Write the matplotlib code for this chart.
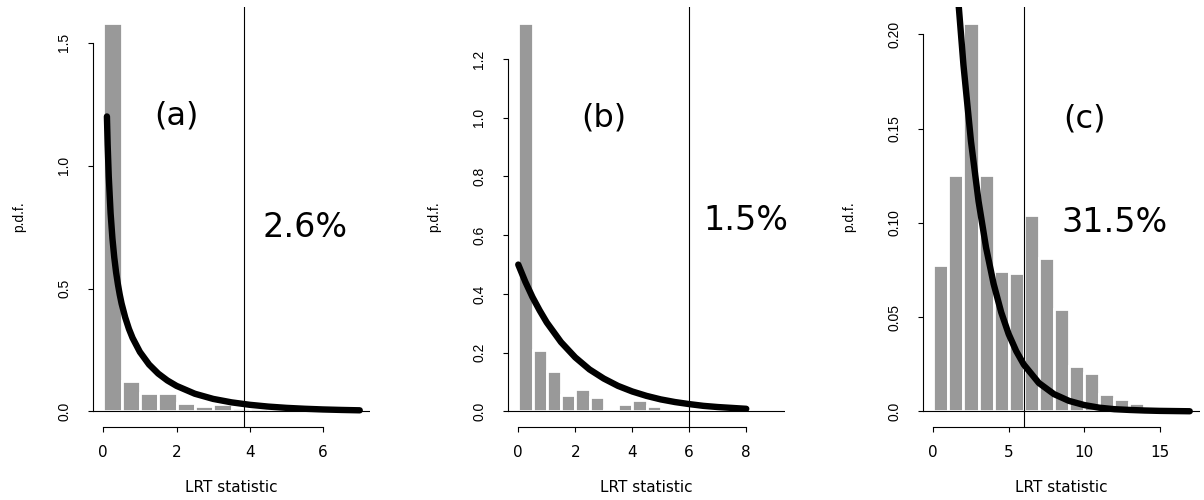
import matplotlib
matplotlib.use('Agg')
import matplotlib.pyplot as plt
import numpy as np

# histogram bins (left edges + last right edge) and densities
a_edges = [0, 0.5, 1.0, 1.5, 2.0, 2.5, 3.0, 3.5, 4.0, 4.5, 5.0, 5.5]
a_dens = [1.582, 0.124, 0.073, 0.073, 0.035, 0.022, 0.031, 0.016, 0.012, 0.012, 0.008]

b_edges = [0, 0.5, 1.0, 1.5, 2.0, 2.5, 3.0, 3.5, 4.0, 4.5, 5.0, 5.5, 6.0, 6.5]
b_dens = [1.324, 0.208, 0.139, 0.057, 0.0775, 0.048, 0.006, 0.026, 0.038, 0.017, 0.0, 0.006, 0.006]

c_edges = [0, 1, 2, 3, 4, 5, 6, 7, 8, 9, 10, 11, 12, 13, 14, 15]
c_dens = [0.0775, 0.1254, 0.2063, 0.1254, 0.0745, 0.0736, 0.1043, 0.0814, 0.0545,
          0.0243, 0.0202, 0.0093, 0.0066, 0.0045, 0.001]

# reference density curves
a_curve_x = [0.1, 0.12, 0.15, 0.2, 0.25, 0.3, 0.35, 0.4, 0.45, 0.5, 0.6, 0.7, 0.8, 1.0,
             1.25, 1.5, 1.75, 2.0, 2.5, 3.0, 3.5, 4.0, 4.5, 5.0, 5.5, 6.0, 6.5, 7.0]
a_curve_y = [1.200, 1.085, 0.956, 0.807, 0.704, 0.627, 0.566, 0.517, 0.475, 0.439, 0.382,
             0.336, 0.299, 0.242, 0.191, 0.154, 0.126, 0.104, 0.072, 0.051, 0.037, 0.027,
             0.0198, 0.0146, 0.0109, 0.0081, 0.0061, 0.0046]

b_curve_x = [0, 0.25, 0.5, 0.75, 1.0, 1.5, 2.0, 2.5, 3.0, 3.5, 4.0, 4.5, 5.0, 5.5, 6.0,
             6.5, 7.0, 7.5, 8.0]
b_curve_y = [0.500, 0.441, 0.389, 0.344, 0.303, 0.236, 0.184, 0.143, 0.112, 0.087, 0.068,
             0.053, 0.041, 0.032, 0.025, 0.019, 0.015, 0.012, 0.009]

c_curve_x = [1.69, 2.0, 2.5, 3.0, 3.5, 4.0, 4.5, 5.0, 5.5, 6.0, 7.0, 8.0, 9.0, 10.0,
             11.0, 12.0, 13.0, 14.0, 15.0, 16.0, 17.0]
c_curve_y = [0.2148, 0.1839, 0.1433, 0.1116, 0.0869, 0.0677, 0.0527, 0.0410, 0.0320,
             0.0249, 0.0151, 0.0092, 0.0056, 0.0034, 0.0020, 0.0012, 0.0008, 0.0005,
             0.0003, 0.0002, 0.0001]

cutoffs = [3.84, 5.99, 5.99]
tags = ['(a)', '(b)', '(c)']
tag_pos = [(2, 1.2), (3, 1.0), (10, 0.155)]
pcts = ['2.6%', '1.5%', '31.5%']
pct_pos = [(5.5, 0.75), (8, 0.65), (12, 0.10)]
x_ranges = [(0, 7), (0, 9), (0, 17)]
x_ticks = [[0, 2, 4, 6], [0, 2, 4, 6, 8], [0, 5, 10, 15]]
y_ticks = [[0, 0.5, 1.0, 1.5], [0, 0.2, 0.4, 0.6, 0.8, 1.0, 1.2], [0, 0.05, 0.10, 0.15, 0.20]]
y_labels = [['0.0', '0.5', '1.0', '1.5'],
            ['0.0', '0.2', '0.4', '0.6', '0.8', '1.0', '1.2'],
            ['0.0', '0.05', '0.10', '0.15', '0.20']]

edges = [a_edges, b_edges, c_edges]
dens = [a_dens, b_dens, c_dens]
curves = [(a_curve_x, a_curve_y), (b_curve_x, b_curve_y), (c_curve_x, c_curve_y)]


def r_lim(lo, hi):
    d = 0.04 * (hi - lo)
    return lo - d, hi + d


W, H = 1204, 500
fig = plt.figure(figsize=(W / 100, H / 100), dpi=100)
plt.rcParams['font.family'] = 'DejaVu Sans'

for i in range(3):
    left = 93 + 415 * i
    ax = fig.add_axes([left / W, 73 / H, 277 / W, 420 / H])
    e = np.array(edges[i])
    ax.bar(e[:-1], dens[i], width=np.diff(e), align='edge', color='#999999',
           edgecolor='white', linewidth=2, zorder=1)
    ax.axhline(0, color='black', lw=0.8, zorder=2)
    ax.axvline(cutoffs[i], color='black', lw=0.8, zorder=2)
    ax.plot(curves[i][0], curves[i][1], color='black', lw=4.6,
            solid_capstyle='round', solid_joinstyle='round', zorder=3)

    ax.set_xlim(*r_lim(*x_ranges[i]))
    ax.set_ylim(*r_lim(0, max(dens[i])))

    ax.text(tag_pos[i][0], tag_pos[i][1], tags[i], fontsize=23, ha='center', va='center')
    ax.text(pct_pos[i][0], pct_pos[i][1], pcts[i], fontsize=24, ha='center', va='center')

    for s in ['top', 'right']:
        ax.spines[s].set_visible(False)
    ax.spines['left'].set_bounds(y_ticks[i][0], y_ticks[i][-1])
    ax.spines['bottom'].set_bounds(x_ticks[i][0], x_ticks[i][-1])
    for s in ['left', 'bottom']:
        ax.spines[s].set_linewidth(0.8)

    ax.set_xticks(x_ticks[i], [str(t) for t in x_ticks[i]], fontsize=11)
    ax.set_yticks(y_ticks[i], y_labels[i], fontsize=10, family='Liberation Sans',
                  rotation=90, va='center')
    ax.tick_params(axis='x', length=3.6, width=0.8, pad=9.5)
    ax.tick_params(axis='y', length=3.6, width=0.8, pad=12)

    ax.text(0.5, -60 / 420, 'LRT statistic', transform=ax.transAxes, fontsize=11,
            ha='center', va='center')
    ax.text(-74 / 277, 0.5, 'p.d.f.', transform=ax.transAxes, fontsize=10,
            family='Liberation Sans', rotation=90, ha='center', va='center')

fig.savefig('out.png', dpi=100)
